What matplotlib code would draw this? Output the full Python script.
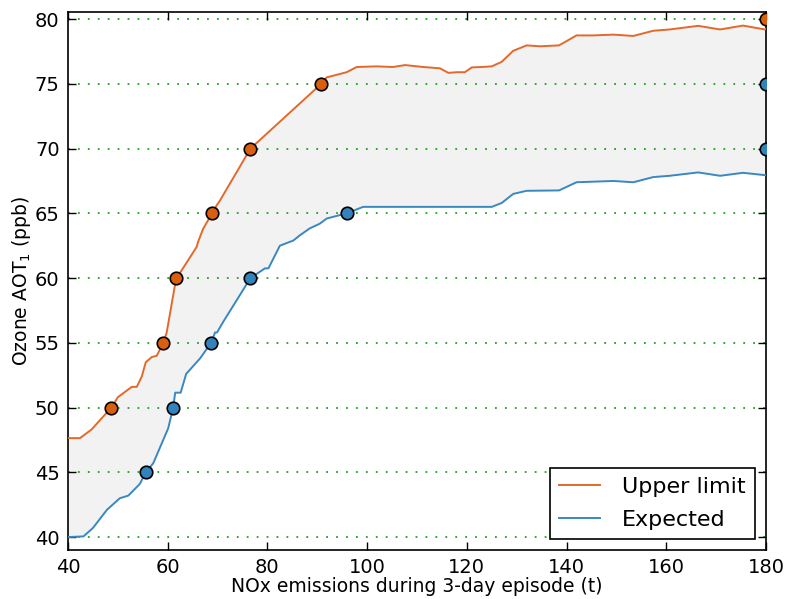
import matplotlib
matplotlib.use("Agg")
import matplotlib.pyplot as plt
import numpy as np

# Upper limit curve
upper_x = [40, 42.4, 44.7, 48.7, 50, 52.8, 53.8, 54.8, 55.6, 56.8, 57.8, 59.1, 59.8, 61.7,
           62.8, 65.8, 66.1, 67.1, 68.9, 69.8, 70.5, 76.6, 90.8, 91.9, 95.9, 97.9, 101.9,
           105.2, 107.6, 111.3, 114.6, 116.3, 118, 119.6, 121, 123, 125, 127, 129.3, 132,
           134.7, 138.5, 142, 145.3, 149.4, 153.4, 157.4, 160.7, 166.4, 170.8, 175.4, 179.8, 180]
upper_y = [47.64, 47.64, 48.3, 50.0, 50.8, 51.6, 51.6, 52.4, 53.5, 53.9, 54.0, 55.0, 55.8, 60.0,
           60.6, 62.4, 62.8, 63.8, 65.0, 65.6, 66.0, 70.0, 75.0, 75.5, 75.9, 76.3, 76.35,
           76.3, 76.45, 76.3, 76.2, 75.85, 75.9, 75.9, 76.27, 76.3, 76.35, 76.7, 77.55, 77.97,
           77.9, 77.97, 78.74, 78.74, 78.8, 78.7, 79.1, 79.2, 79.48, 79.2, 79.5, 79.2, 79.25]

# Expected curve
exp_x = [40, 43.1, 45.0, 47.8, 50.4, 52.1, 54.4, 55.6, 57.1, 60.1, 61.1, 61.5, 62.6, 63.7,
         66.5, 68.7, 69.5, 69.9, 71.1, 76.6, 79.5, 80.2, 82.5, 85.2, 86.5, 88.5, 90.5, 91.9,
         95.9, 99.2, 125, 127, 129.3, 132, 138.5, 142, 149.4, 153.4, 157.4, 160.7, 166.4,
         170.8, 175.4, 179.8, 180]
exp_y = [40.0, 40.05, 40.7, 42.1, 43.0, 43.2, 44.1, 45.0, 45.7, 48.4, 50.0, 51.15, 51.15, 52.6,
         53.8, 55.0, 55.8, 55.8, 56.6, 60.0, 60.75, 60.75, 62.5, 62.9, 63.3, 63.84, 64.2, 64.6,
         65.0, 65.5, 65.5, 65.8, 66.5, 66.74, 66.77, 67.4, 67.5, 67.4, 67.8, 67.9, 68.16,
         67.9, 68.13, 67.95, 67.95]

# Threshold markers
upper_mx = [48.7, 59.1, 61.7, 68.9, 76.6, 90.8, 180]
upper_my = [50, 55, 60, 65, 70, 75, 80]
exp_mx = [55.6, 61.1, 68.7, 76.6, 95.9, 180, 180]
exp_my = [45, 50, 55, 60, 65, 70, 75]

x_ticks = [40, 60, 80, 100, 120, 140, 160, 180]
y_ticks = [40, 45, 50, 55, 60, 65, 70, 75, 80]

orange_line = '#e3692a'
orange_mark = '#d95f0e'
blue_line = '#3a88c2'
blue_mark = '#3182bd'

fig = plt.figure(figsize=(7.88, 5.99), dpi=100)
ax = fig.add_axes([0.0863, 0.0818, 0.8857, 0.8982])

# fill between on a common grid
gx = np.union1d(upper_x, exp_x)
ax.fill_between(gx, np.interp(gx, exp_x, exp_y), np.interp(gx, upper_x, upper_y),
                color='#f2f2f2', zorder=1, linewidth=0)

for yv in y_ticks:
    ax.axhline(yv, color='#22a022', linestyle=(0, (1, 4.5)), linewidth=1.3, zorder=1.5)

ax.plot(upper_x, upper_y, color=orange_line, linewidth=1.4, label='Upper limit', zorder=3)
ax.plot(exp_x, exp_y, color=blue_line, linewidth=1.4, label='Expected', zorder=3)
ax.plot(upper_mx, upper_my, 'o', color=orange_mark, markeredgecolor='black',
        markeredgewidth=1.2, markersize=9, zorder=4)
ax.plot(exp_mx, exp_my, 'o', color=blue_mark, markeredgecolor='black',
        markeredgewidth=1.2, markersize=9, zorder=4)

ax.set_xlim(40, 180)
ax.set_ylim(39.0, 80.55)
ax.set_xticks(x_ticks)
ax.set_yticks(y_ticks)
ax.tick_params(direction='in', top=True, right=True, labelsize=14, length=6, width=1, pad=6)
for s in ax.spines.values():
    s.set_linewidth(1.2)

ax.set_xlabel('NOx emissions during 3-day episode (t)', fontsize=13.5, labelpad=0)
ax.set_ylabel('Ozone AOT$_1$ (ppb)', fontsize=13.5, labelpad=1)

leg = ax.legend(loc='lower right', fontsize=16, frameon=True, fancybox=False,
                edgecolor='black', framealpha=1, borderaxespad=0.5, handlelength=1.85,
                handletextpad=1.0, labelspacing=0.6)
leg.get_frame().set_linewidth(1.2)

fig.savefig('out.png', dpi=100)
